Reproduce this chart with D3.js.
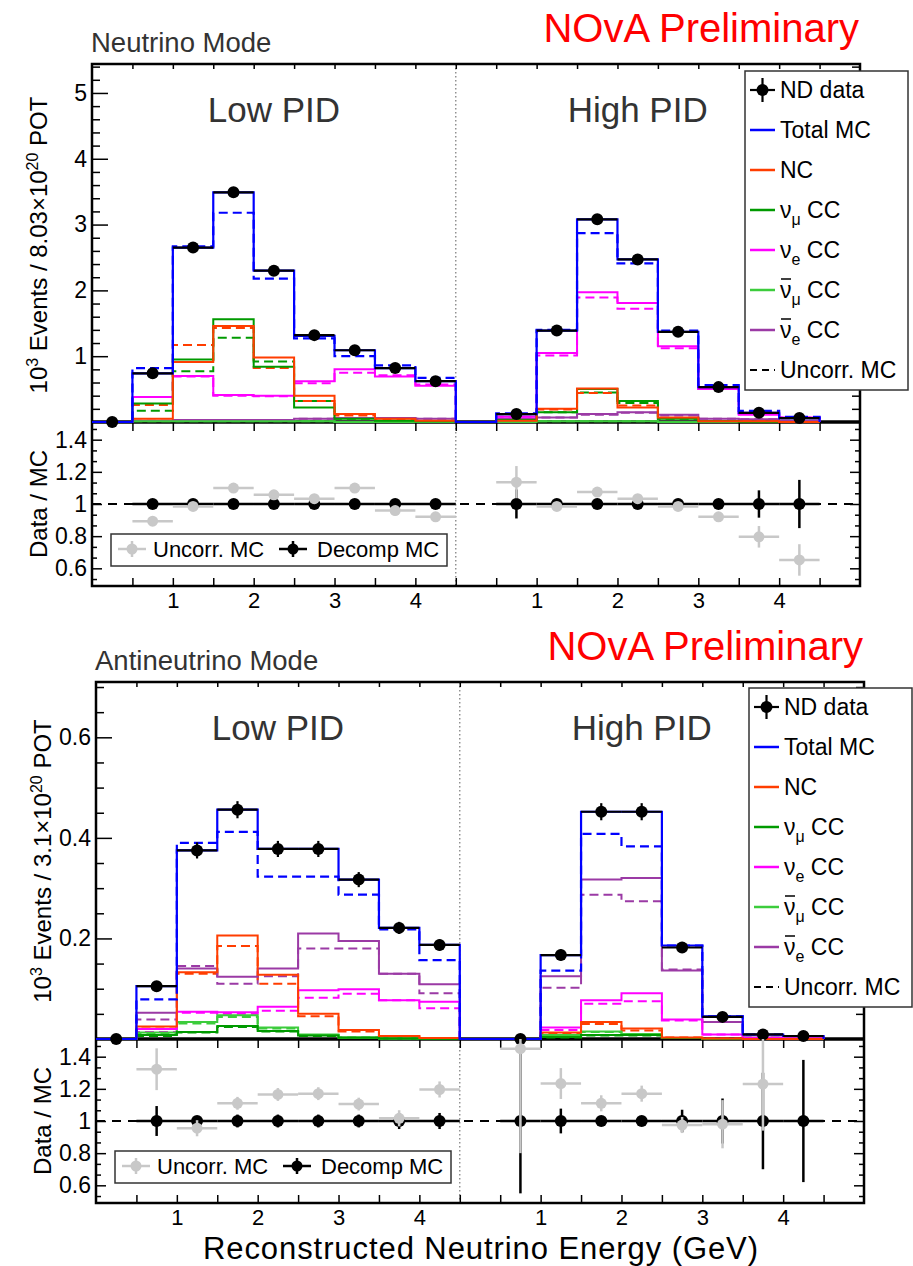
<!DOCTYPE html>
<html>
<head>
<meta charset="utf-8">
<script src="https://cdn.jsdelivr.net/npm/d3@7"></script>
<style>
  body { margin: 0; background: #fff; }
  svg { display: block; font-family: "Liberation Sans", Arial, sans-serif; }
</style>
</head>
<body>
<svg id="chart" width="913" height="1266"></svg>
<script>
// Bin edges on the combined axis: Low PID 0-4.5, High PID 4.5-9.0 (shown as 0-4.5 again)
const binEdges = [0, 0.5, 1, 1.5, 2, 2.5, 3, 3.5, 4, 4.5, 5, 5.5, 6, 6.5, 7, 7.5, 8, 8.5, 9];
const xTickPos = [1, 2, 3, 4, 5.5, 6.5, 7.5, 8.5];
const xTickLabels = ['1', '2', '3', '4', '1', '2', '3', '4'];
const sectionLabels = ['Low PID', 'High PID'];

// ---- Neutrino mode (10^3 events / 8.03e20 POT) ----
const nuYTicks = [1, 2, 3, 4, 5];
const nuData      = [0, 0.74, 2.65, 3.49, 2.30, 1.32, 1.09, 0.82, 0.62, null, 0.12, 1.39, 3.08, 2.47, 1.37, 0.53, 0.14, 0.06];
const nuDataErr   = [0, 0.01, 0.02, 0.02, 0.02, 0.01, 0.01, 0.01, 0.01, null, 0.01, 0.01, 0.02, 0.02, 0.01, 0.01, 0.01, 0.01];
const nuTotal     = [0, 0.74, 2.65, 3.49, 2.30, 1.31, 1.09, 0.82, 0.62, 0, 0.12, 1.39, 3.08, 2.47, 1.37, 0.53, 0.14, 0.06];
const nuTotalUnc  = [0, 0.82, 2.67, 3.18, 2.18, 1.27, 1.00, 0.86, 0.67, 0, 0.13, 1.40, 2.87, 2.41, 1.39, 0.56, 0.17, 0.08];
const nuNC        = [0, 0.05, 0.91, 1.46, 0.98, 0.40, 0.12, 0.05, 0.02, 0, 0.02, 0.20, 0.51, 0.22, 0.07, 0.01, 0.01, 0];
const nuNCUnc     = [0, 0.26, 1.17, 1.43, 0.82, 0.32, 0.10, 0.04, 0.02, 0, 0.02, 0.19, 0.44, 0.25, 0.06, 0.01, 0.01, 0];
const nuNumu      = [0, 0.28, 0.95, 1.56, 0.84, 0.22, 0.05, 0.02, 0.01, 0, 0.03, 0.15, 0.50, 0.32, 0.05, 0.01, 0, 0];
const nuNumuUnc   = [0, 0.17, 0.77, 1.28, 0.92, 0.32, 0.05, 0.02, 0.01, 0, 0.03, 0.15, 0.45, 0.29, 0.05, 0.01, 0, 0];
const nuNue       = [0, 0.38, 0.70, 0.41, 0.40, 0.62, 0.80, 0.69, 0.55, 0, 0.08, 1.05, 1.97, 1.81, 1.15, 0.50, 0.11, 0.07];
const nuNueUnc    = [0, 0.38, 0.69, 0.40, 0.39, 0.59, 0.75, 0.71, 0.57, 0, 0.08, 1.01, 1.89, 1.72, 1.12, 0.50, 0.12, 0.07];
const nuNumubar   = [0, 0.01, 0.01, 0.01, 0.01, 0.01, 0, 0, 0, 0, 0, 0.01, 0.01, 0.01, 0, 0, 0, 0];
const nuNumubarUnc= [0, 0.01, 0.01, 0.01, 0.01, 0.01, 0, 0, 0, 0, 0, 0.01, 0.01, 0.01, 0, 0, 0, 0];
const nuNuebar    = [0, 0.02, 0.03, 0.03, 0.03, 0.05, 0.06, 0.06, 0.05, 0, 0.05, 0.07, 0.12, 0.15, 0.11, 0.05, 0.04, 0.02];
const nuNuebarUnc = [0, 0.02, 0.03, 0.03, 0.03, 0.05, 0.06, 0.06, 0.05, 0, 0.05, 0.07, 0.11, 0.14, 0.10, 0.05, 0.04, 0.02];
const nuRatioUnc     = [null, 0.893, 0.985, 1.099, 1.057, 1.033, 1.099, 0.959, 0.92, null, 1.136, 0.985, 1.074, 1.033, 0.985, 0.92, 0.796, 0.652];
const nuRatioUncErr  = [null, 0.01, 0.01, 0.01, 0.01, 0.01, 0.01, 0.01, 0.01, null, 0.10, 0.01, 0.01, 0.01, 0.01, 0.02, 0.067, 0.098];
const nuRatioDec     = [null, 1, 1, 1, 1, 1, 1, 1, 1, null, 1, 1, 1, 1, 1, 1, 1, 1];
const nuRatioDecErr  = [null, 0.01, 0.005, 0.005, 0.005, 0.01, 0.01, 0.01, 0.01, null, 0.09, 0.01, 0.005, 0.005, 0.01, 0.02, 0.085, 0.15];

// ---- Antineutrino mode (10^3 events / 3.1e20 POT) ----
const anuYTicks = [0.2, 0.4, 0.6];
const anuData      = [0, 0.105, 0.375, 0.456, 0.378, 0.378, 0.317, 0.221, 0.187, null, 0, 0.167, 0.452, 0.452, 0.182, 0.044, 0.009, 0.006];
const anuDataErr   = [0, 0.010, 0.016, 0.017, 0.016, 0.016, 0.015, 0.012, 0.011, null, 0, 0.011, 0.017, 0.017, 0.011, 0.005, 0.003, 0.002];
const anuTotal     = [0, 0.105, 0.375, 0.456, 0.378, 0.378, 0.317, 0.221, 0.187, 0, 0, 0.167, 0.452, 0.452, 0.186, 0.045, 0.009, 0.006];
const anuTotalUnc  = [0, 0.079, 0.390, 0.412, 0.323, 0.323, 0.287, 0.218, 0.157, 0, 0, 0.136, 0.408, 0.383, 0.186, 0.045, 0.009, 0.006];
const anuNC        = [0, 0.025, 0.133, 0.206, 0.128, 0.050, 0.018, 0.006, 0.002, 0, 0, 0.013, 0.034, 0.021, 0.003, 0.001, 0, 0];
const anuNCUnc     = [0, 0.021, 0.130, 0.185, 0.110, 0.045, 0.015, 0.005, 0.002, 0, 0, 0.011, 0.030, 0.017, 0.003, 0.001, 0, 0];
const anuNumu      = [0, 0.008, 0.014, 0.026, 0.016, 0.007, 0.003, 0.001, 0, 0, 0, 0.004, 0.008, 0.008, 0.002, 0, 0, 0];
const anuNumuUnc   = [0, 0.006, 0.013, 0.024, 0.015, 0.006, 0.002, 0.001, 0, 0, 0, 0.003, 0.007, 0.007, 0.002, 0, 0, 0];
const anuNue       = [0, 0.020, 0.054, 0.053, 0.064, 0.097, 0.099, 0.077, 0.074, 0, 0, 0.023, 0.077, 0.091, 0.039, 0.009, 0.002, 0.001];
const anuNueUnc    = [0, 0.014, 0.052, 0.050, 0.056, 0.082, 0.090, 0.077, 0.061, 0, 0, 0.018, 0.070, 0.075, 0.037, 0.009, 0.002, 0.001];
const anuNumubar   = [0, 0.013, 0.034, 0.047, 0.023, 0.009, 0.003, 0.001, 0, 0, 0, 0.008, 0.015, 0.010, 0.002, 0, 0, 0];
const anuNumubarUnc= [0, 0.011, 0.031, 0.044, 0.021, 0.008, 0.003, 0.001, 0, 0, 0, 0.007, 0.014, 0.009, 0.002, 0, 0, 0];
const anuNuebar    = [0, 0.052, 0.140, 0.124, 0.140, 0.210, 0.195, 0.130, 0.109, 0, 0, 0.125, 0.317, 0.320, 0.136, 0.034, 0.007, 0.004];
const anuNuebarUnc = [0, 0.039, 0.145, 0.110, 0.125, 0.180, 0.180, 0.130, 0.091, 0, 0, 0.102, 0.287, 0.274, 0.138, 0.034, 0.007, 0.004];
const anuRatioUnc    = [null, 1.322, 0.955, 1.11, 1.165, 1.17, 1.105, 1.017, 1.196, null, 1.45, 1.233, 1.11, 1.17, 0.975, 0.98, 1.23, null];
const anuRatioUncErr = [null, 0.13, 0.05, 0.04, 0.04, 0.04, 0.04, 0.05, 0.05, null, 0.65, 0.096, 0.05, 0.05, 0.05, 0.15, 0.29, null];
const anuRatioDec    = [null, 1, 1, 1, 1, 1, 1, 1, 1, null, 1, 1, 1, 1, 1, 1, 1, 1];
const anuRatioDecErr = [null, 0.093, 0.03, 0.04, 0.04, 0.04, 0.04, 0.05, 0.05, null, 0.45, 0.077, 0.03, 0.03, 0.07, 0.14, 0.30, 0.38];

const ratioTicks = [0.6, 0.8, 1, 1.2, 1.4];

const colors = {
    total: '#0000ff', nc: '#ff3d00', numu: '#009a00', nue: '#ff00ff',
    numubar: '#3ccc3c', nuebar: '#9b3aa5', data: '#000', gray: '#c8c8c8'
};

const legendEntries = [
    { key: 'data', text: 'ND data' },
    { key: 'total', text: 'Total MC' },
    { key: 'nc', text: 'NC' },
    { key: 'numu', sub: 'μ' },
    { key: 'nue', sub: 'e' },
    { key: 'numubar', sub: 'μ', bar: true },
    { key: 'nuebar', sub: 'e', bar: true },
    { key: 'unc', text: 'Uncorr. MC' }
];

const svg = d3.select('#chart');
const FONT_TICK = 23;
const FONT_FAMILY = 'Liberation Sans, Arial, sans-serif';

function drawPanel(p) {
    const x = d3.scaleLinear().domain([0, 9.5]).range([p.left, p.right]);
    const y = d3.scaleLinear().domain([0, p.yMax]).range([p.mainBottom, p.top]);
    const yr = d3.scaleLinear().domain([0.49, 1.51]).range([p.ratioBottom, p.mainBottom]);
    const g = svg.append('g');

    // Titles above the frame
    g.append('text')
        .attr('x', p.left - 1).attr('y', p.top - 12)
        .attr('font-size', 27.5).attr('fill', '#333')
        .text(p.mode);
    g.append('text')
        .attr('x', p.right - 1).attr('y', p.top - 22)
        .attr('text-anchor', 'end')
        .attr('font-size', 40).attr('fill', '#ff0000')
        .text('NOvA Preliminary');

    // Clip paths
    const clipMain = 'clip-main-' + p.id;
    const clipRatio = 'clip-ratio-' + p.id;
    const defs = g.append('defs');
    defs.append('clipPath').attr('id', clipMain).append('rect')
        .attr('x', p.left).attr('y', p.top)
        .attr('width', p.right - p.left).attr('height', p.mainBottom - p.top + 1);
    defs.append('clipPath').attr('id', clipRatio).append('rect')
        .attr('x', p.left).attr('y', p.mainBottom)
        .attr('width', p.right - p.left).attr('height', p.ratioBottom - p.mainBottom);

    // Section divider
    g.append('line')
        .attr('x1', x(4.5)).attr('x2', x(4.5))
        .attr('y1', p.top).attr('y2', p.ratioBottom)
        .attr('stroke', '#777').attr('stroke-width', 1.2)
        .attr('stroke-dasharray', '1.5,2.5');

    // Section labels
    [2.25, 6.75].forEach((c, i) => {
        g.append('text')
            .attr('x', x(c)).attr('y', p.top + 58)
            .attr('text-anchor', 'middle')
            .attr('font-size', 35).attr('fill', '#333')
            .text(sectionLabels[i]);
    });

    // ---- Axes / ticks ----
    const yMinor = d3.range(p.yMinorStep, p.yMax, p.yMinorStep)
        .filter(v => !p.yTicks.some(t => Math.abs(t - v) < 1e-6));
    const strip = s => s.select('.domain').remove();
    const blackTicks = s => s.selectAll('line').attr('stroke', '#000').attr('stroke-width', 1.5);
    const tickText = (s, fs) => s.selectAll('text')
        .attr('font-size', fs).attr('font-family', FONT_FAMILY).attr('fill', '#000');

    // main left
    g.append('g').attr('transform', `translate(${p.left},0)`)
        .call(d3.axisLeft(y).tickValues(p.yTicks).tickSize(-16).tickPadding(5)
            .tickFormat(d => String(+d.toFixed(2))))
        .call(strip).call(s => tickText(s, FONT_TICK)).call(blackTicks);
    g.append('g').attr('transform', `translate(${p.left},0)`)
        .call(d3.axisLeft(y).tickValues(yMinor).tickSize(-8).tickFormat(''))
        .call(strip).call(blackTicks);
    // main right mirror
    g.append('g').attr('transform', `translate(${p.right},0)`)
        .call(d3.axisLeft(y).tickValues(p.yTicks).tickSize(16).tickFormat(''))
        .call(strip).call(blackTicks);
    g.append('g').attr('transform', `translate(${p.right},0)`)
        .call(d3.axisLeft(y).tickValues(yMinor).tickSize(8).tickFormat(''))
        .call(strip).call(blackTicks);

    // ratio y
    const rMinor = d3.range(0.5 + 1 / 30, 1.5, 0.2 / 3)
        .filter(v => !ratioTicks.some(t => Math.abs(t - v) < 1e-3));
    g.append('g').attr('transform', `translate(${p.left},0)`)
        .call(d3.axisLeft(yr).tickValues(ratioTicks).tickSize(-10).tickPadding(5)
            .tickFormat(d => String(+d.toFixed(1))))
        .call(strip).call(s => tickText(s, FONT_TICK)).call(blackTicks);
    [[p.left, -5], [p.right, 5]].forEach(([px, sz]) => {
        g.append('g').attr('transform', `translate(${px},0)`)
            .call(d3.axisLeft(yr).tickValues(rMinor).tickSize(sz).tickFormat(''))
            .call(strip).call(blackTicks);
    });
    g.append('g').attr('transform', `translate(${p.right},0)`)
        .call(d3.axisLeft(yr).tickValues(ratioTicks).tickSize(10).tickFormat(''))
        .call(strip).call(blackTicks);

    // x ticks (every 0.5)
    const xt = binEdges.slice(1);
    [[p.top, 5], [p.mainBottom, 9], [p.ratioBottom, -8]].forEach(([py, sz]) => {
        g.append('g').attr('transform', `translate(0,${py})`)
            .call(d3.axisBottom(x).tickValues(xt).tickSize(sz).tickFormat(''))
            .call(strip).call(blackTicks);
    });
    g.append('g').attr('transform', `translate(0,${p.ratioBottom})`)
        .call(d3.axisBottom(x).tickValues(xTickPos).tickSize(0).tickPadding(6)
            .tickFormat((d, i) => xTickLabels[i]))
        .call(strip).call(s => tickText(s, 22));

    // Frames
    g.append('rect')
        .attr('x', p.left).attr('y', p.top)
        .attr('width', p.right - p.left).attr('height', p.ratioBottom - p.top)
        .attr('fill', 'none').attr('stroke', '#000').attr('stroke-width', 2.5);
    g.append('line')
        .attr('x1', p.left).attr('x2', p.right)
        .attr('y1', p.mainBottom).attr('y2', p.mainBottom)
        .attr('stroke', '#000').attr('stroke-width', 3.5);

    // Axis titles
    const yt = g.append('text')
        .attr('transform', `translate(${p.left - 45},${p.yTitleY}) rotate(-90)`)
        .attr('text-anchor', 'middle').attr('font-size', 24).attr('fill', '#000');
    yt.append('tspan').text('10');
    yt.append('tspan').attr('dy', -9).attr('font-size', 16).text('3');
    yt.append('tspan').attr('dy', 9).text(' Events / ' + p.pot + '×10');
    yt.append('tspan').attr('dy', -9).attr('font-size', 16).text('20');
    yt.append('tspan').attr('dy', 9).text(' POT');

    g.append('text')
        .attr('transform', `translate(${p.left - 45},${(p.mainBottom + p.ratioBottom) / 2}) rotate(-90)`)
        .attr('text-anchor', 'middle').attr('font-size', 24).attr('fill', '#000')
        .text('Data / MC');

    // ---- Histograms ----
    const line = d3.line().x(d => x(d[0])).y(d => y(d[1]));
    function stepPoints(vals) {
        const pts = [[binEdges[0], 0]];
        vals.forEach((v, i) => { pts.push([binEdges[i], v], [binEdges[i + 1], v]); });
        pts.push([binEdges[vals.length], 0]);
        return pts;
    }
    const hg = g.append('g').attr('clip-path', `url(#${clipMain})`);
    const comps = ['nuebar', 'numubar', 'nue', 'numu', 'nc'];
    comps.forEach(k => {
        hg.append('path').attr('d', line(stepPoints(p.series[k + 'Unc'])))
            .attr('fill', 'none').attr('stroke', colors[k]).attr('stroke-width', 2)
            .attr('stroke-dasharray', '9,5');
    });
    comps.forEach(k => {
        hg.append('path').attr('d', line(stepPoints(p.series[k])))
            .attr('fill', 'none').attr('stroke', colors[k]).attr('stroke-width', 2);
    });
    hg.append('path').attr('d', line(stepPoints(p.series.total)))
        .attr('fill', 'none').attr('stroke', colors.total).attr('stroke-width', 2.2);
    hg.append('path').attr('d', line(stepPoints(p.series.totalUnc)))
        .attr('fill', 'none').attr('stroke', colors.total).attr('stroke-width', 2.2)
        .attr('stroke-dasharray', '9,5');

    // Data points
    const dg = g.append('g');
    p.series.data.forEach((v, i) => {
        if (v === null) return;
        const cx = x((binEdges[i] + binEdges[i + 1]) / 2);
        const e = p.series.dataErr[i] || 0;
        if (v > 0) {
            dg.append('line').attr('x1', x(binEdges[i])).attr('x2', x(binEdges[i + 1]))
                .attr('y1', y(v)).attr('y2', y(v)).attr('stroke', '#000').attr('stroke-width', 2.2);
            dg.append('line').attr('x1', cx).attr('x2', cx)
                .attr('y1', y(v - e)).attr('y2', y(v + e)).attr('stroke', '#000').attr('stroke-width', 2.2);
        }
        dg.append('circle').attr('cx', cx).attr('cy', y(v)).attr('r', 6).attr('fill', '#000');
    });

    // ---- Ratio ----
    const rg = g.append('g').attr('clip-path', `url(#${clipRatio})`);
    rg.append('line').attr('x1', p.left).attr('x2', p.right)
        .attr('y1', yr(1)).attr('y2', yr(1))
        .attr('stroke', '#000').attr('stroke-width', 2).attr('stroke-dasharray', '9,7');
    function ratioPoints(vals, errs, col, r) {
        vals.forEach((v, i) => {
            if (v === null) return;
            const cx = x((binEdges[i] + binEdges[i + 1]) / 2);
            rg.append('line').attr('x1', x(binEdges[i])).attr('x2', x(binEdges[i + 1]))
                .attr('y1', yr(v)).attr('y2', yr(v)).attr('stroke', col).attr('stroke-width', 2.5);
            rg.append('line').attr('x1', cx).attr('x2', cx)
                .attr('y1', yr(v - errs[i])).attr('y2', yr(v + errs[i]))
                .attr('stroke', col).attr('stroke-width', 2.5);
            rg.append('circle').attr('cx', cx).attr('cy', yr(v)).attr('r', r).attr('fill', col);
        });
    }
    ratioPoints(p.series.ratioDec, p.series.ratioDecErr, '#000', 6);
    ratioPoints(p.series.ratioUnc, p.series.ratioUncErr, colors.gray, 5.5);

    // Ratio legend
    const rl = g.append('g').attr('transform', `translate(${p.left + 19},${p.ratioBottom - 52})`);
    rl.append('rect').attr('width', 336).attr('height', 32)
        .attr('fill', '#fff').attr('stroke', '#333').attr('stroke-width', 1.5);
    [[21, colors.gray, 'Uncorr. MC', 42], [182, '#000', 'Decomp MC', 206]].forEach(([mx, col, txt, tx]) => {
        rl.append('line').attr('x1', mx - 14).attr('x2', mx + 14).attr('y1', 15).attr('y2', 15)
            .attr('stroke', col).attr('stroke-width', 2.5);
        rl.append('line').attr('x1', mx).attr('x2', mx).attr('y1', 7).attr('y2', 23)
            .attr('stroke', col).attr('stroke-width', 2.5);
        rl.append('circle').attr('cx', mx).attr('cy', 15).attr('r', 5.5).attr('fill', col);
        rl.append('text').attr('x', tx).attr('y', 23).attr('font-size', 22).attr('fill', '#000').text(txt);
    });

    // Main legend
    const lg = g.append('g').attr('transform', `translate(${p.legX},${p.legY})`);
    lg.append('rect').attr('width', 163).attr('height', 319)
        .attr('fill', '#fff').attr('stroke', '#333').attr('stroke-width', 1.5);
    legendEntries.forEach((e, i) => {
        const cy = 19 + i * 40;
        if (e.key === 'data') {
            lg.append('line').attr('x1', 5).attr('x2', 30).attr('y1', cy).attr('y2', cy)
                .attr('stroke', '#000').attr('stroke-width', 2.2);
            lg.append('line').attr('x1', 17.5).attr('x2', 17.5).attr('y1', cy - 12).attr('y2', cy + 12)
                .attr('stroke', '#000').attr('stroke-width', 2.2);
            lg.append('circle').attr('cx', 17.5).attr('cy', cy).attr('r', 6).attr('fill', '#000');
        } else if (e.key === 'unc') {
            lg.append('line').attr('x1', 5).attr('x2', 30).attr('y1', cy).attr('y2', cy)
                .attr('stroke', '#000').attr('stroke-width', 2.2).attr('stroke-dasharray', '7,5');
        } else {
            lg.append('line').attr('x1', 5).attr('x2', 30).attr('y1', cy).attr('y2', cy)
                .attr('stroke', colors[e.key]).attr('stroke-width', 2.5);
        }
        const t = lg.append('text').attr('x', 35).attr('y', cy + 8)
            .attr('font-size', 23).attr('fill', '#000');
        if (e.sub) {
            t.append('tspan').text('ν');
            t.append('tspan').attr('dy', 7).attr('font-size', 16).text(e.sub);
            t.append('tspan').attr('dy', -7).text(' CC');
            if (e.bar) {
                const n = t.node();
                const s = n.getStartPositionOfChar(0);
                const en = n.getEndPositionOfChar(0);
                lg.append('line').attr('x1', s.x + 1).attr('x2', en.x - 0.5)
                    .attr('y1', cy + 8 - 19).attr('y2', cy + 8 - 19)
                    .attr('stroke', '#000').attr('stroke-width', 1.5);
            }
        } else {
            t.text(e.text);
        }
    });
}

drawPanel({
    id: 'nu', mode: 'Neutrino Mode', pot: '8.03',
    left: 92, right: 860, top: 64, mainBottom: 422, ratioBottom: 586,
    yMax: 5.44, yTicks: nuYTicks, yMinorStep: 0.2, yTitleY: 245,
    legX: 745, legY: 71,
    series: {
        data: nuData, dataErr: nuDataErr, total: nuTotal, totalUnc: nuTotalUnc,
        nc: nuNC, ncUnc: nuNCUnc, numu: nuNumu, numuUnc: nuNumuUnc,
        nue: nuNue, nueUnc: nuNueUnc, numubar: nuNumubar, numubarUnc: nuNumubarUnc,
        nuebar: nuNuebar, nuebarUnc: nuNuebarUnc,
        ratioUnc: nuRatioUnc, ratioUncErr: nuRatioUncErr,
        ratioDec: nuRatioDec, ratioDecErr: nuRatioDecErr
    }
});

drawPanel({
    id: 'anu', mode: 'Antineutrino Mode', pot: '3.1',
    left: 96, right: 864, top: 682, mainBottom: 1039, ratioBottom: 1203,
    yMax: 0.71, yTicks: anuYTicks, yMinorStep: 0.05, yTitleY: 861,
    legX: 749, legY: 688,
    series: {
        data: anuData, dataErr: anuDataErr, total: anuTotal, totalUnc: anuTotalUnc,
        nc: anuNC, ncUnc: anuNCUnc, numu: anuNumu, numuUnc: anuNumuUnc,
        nue: anuNue, nueUnc: anuNueUnc, numubar: anuNumubar, numubarUnc: anuNumubarUnc,
        nuebar: anuNuebar, nuebarUnc: anuNuebarUnc,
        ratioUnc: anuRatioUnc, ratioUncErr: anuRatioUncErr,
        ratioDec: anuRatioDec, ratioDecErr: anuRatioDecErr
    }
});

// Shared x-axis title
svg.append('text')
    .attr('x', 758).attr('y', 1259)
    .attr('text-anchor', 'end').attr('font-size', 31)
    .attr('textLength', 555).attr('lengthAdjust', 'spacing')
    .attr('fill', '#000')
    .text('Reconstructed Neutrino Energy (GeV)');
</script>
</body>
</html>
